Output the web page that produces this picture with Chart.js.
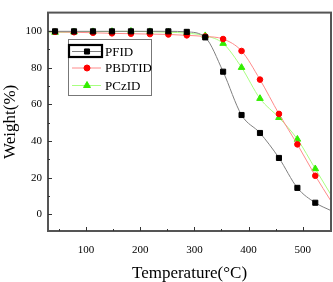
<!DOCTYPE html>
<html>
<head>
<meta charset="utf-8">
<script src="https://cdn.jsdelivr.net/npm/chart.js@4"></script>
<style>
  body { margin: 0; background: #fff; }
  canvas { display: block; }
</style>
</head>
<body>
<canvas id="tga" width="333" height="282"></canvas>
<script>
// temperatures (°C); first and last entries are curve ends without markers
const temps = [30, 43, 78, 113, 148, 183, 218, 252, 286, 320, 353, 387, 421, 456, 490, 523, 552];
const pfid    = [99.9, 99.8, 99.8, 99.8, 99.8, 99.8, 99.8, 99.8, 99.5, 96.5, 77.8, 54.2, 44.4, 30.8, 14.5, 6.4, 2.1];
const pbdtid  = [99.6, 99.5, 99.3, 99.0, 98.7, 98.5, 98.3, 98.1, 97.6, 97.0, 95.6, 89.1, 73.5, 54.8, 38.2, 21.1, 7.3];
const pczid   = [99.0, 99.2, 99.4, 99.6, 99.7, 99.8, 99.6, 99.3, 98.8, 97.4, 93.2, 80.1, 63.2, 52.8, 41.0, 24.9, 10.7];

const xTicks = [100, 200, 300, 400, 500];
const xMinor = [50, 150, 250, 350, 450];
const yTicks = [0, 20, 40, 60, 80, 100];
const yMinor = [10, 30, 50, 70, 90];

const serif = '"Liberation Serif", "Times New Roman", serif';

function series(vals) {
    return vals.map((v, i) => ({ x: temps[i], y: v }));
}
function markerSizes(r) {
    return temps.map((t, i) => (i === 0 || i === temps.length - 1) ? 0 : r);
}

const legendItems = [
    { label: 'PFID', line: '#808080', fill: '#000000', style: 'rect', r: 3.6 },
    { label: 'PBDTID', line: '#ff8a8a', fill: '#ff0000', style: 'circle', r: 3 },
    { label: 'PCzID', line: '#a8ff80', fill: '#33ee00', style: 'triangle', r: 4 }
];

const framePlugin = {
    id: 'frame',
    afterDraw(chart) {
        const ctx = chart.ctx;
        const a = chart.chartArea;
        const xs = chart.scales.x, ys = chart.scales.y;
        ctx.save();
        ctx.strokeStyle = '#555';
        ctx.lineWidth = 2;
        ctx.strokeRect(a.left, a.top, a.right - a.left, a.bottom - a.top);
        // inward ticks
        ctx.lineWidth = 1;
        ctx.strokeStyle = '#333';
        ctx.beginPath();
        xTicks.forEach(v => { const p = Math.round(xs.getPixelForValue(v)) + 0.5; ctx.moveTo(p, a.bottom); ctx.lineTo(p, a.bottom - 4); });
        xMinor.forEach(v => { const p = Math.round(xs.getPixelForValue(v)) + 0.5; ctx.moveTo(p, a.bottom); ctx.lineTo(p, a.bottom - 2); });
        yTicks.forEach(v => { const p = Math.round(ys.getPixelForValue(v)) + 0.5; ctx.moveTo(a.left, p); ctx.lineTo(a.left + 4, p); });
        yMinor.forEach(v => { const p = Math.round(ys.getPixelForValue(v)) + 0.5; ctx.moveTo(a.left, p); ctx.lineTo(a.left + 2, p); });
        ctx.stroke();

        // legend box
        ctx.strokeStyle = '#777';
        ctx.lineWidth = 1;
        ctx.strokeRect(68.5, 39.5, 83, 56);
        ctx.strokeStyle = '#000';
        ctx.lineWidth = 2.2;
        ctx.strokeRect(69, 45, 33, 12);
        const rows = [51.5, 68, 85.5];
        ctx.font = '13px ' + serif;
        ctx.textBaseline = 'middle';
        legendItems.forEach((it, i) => {
            const y = rows[i];
            ctx.strokeStyle = it.line;
            ctx.lineWidth = 1;
            ctx.beginPath();
            ctx.moveTo(72, y);
            ctx.lineTo(101, y);
            ctx.stroke();
            ctx.fillStyle = it.fill;
            ctx.strokeStyle = it.fill;
            Chart.helpers.drawPoint(ctx, { pointStyle: it.style, radius: it.r, borderWidth: 1 }, 87, y);
            ctx.fillStyle = '#000';
            ctx.fillText(it.label, 105, y + 1);
        });
        ctx.restore();
    }
};

new Chart(document.getElementById('tga'), {
    type: 'line',
    data: {
        datasets: [
            {
                label: 'PFID', data: series(pfid),
                borderColor: '#808080', borderWidth: 1,
                pointStyle: 'rect', pointRadius: markerSizes(3.6),
                pointBackgroundColor: '#000', pointBorderColor: '#000',
                cubicInterpolationMode: 'monotone'
            },
            {
                label: 'PBDTID', data: series(pbdtid),
                borderColor: '#ff8a8a', borderWidth: 1,
                pointStyle: 'circle', pointRadius: markerSizes(2.8),
                pointBackgroundColor: '#ff0000', pointBorderColor: '#ff0000',
                cubicInterpolationMode: 'monotone'
            },
            {
                label: 'PCzID', data: series(pczid),
                borderColor: '#a8ff80', borderWidth: 1,
                pointStyle: 'triangle', pointRadius: markerSizes(3.8),
                pointBackgroundColor: '#33ee00', pointBorderColor: '#33ee00',
                cubicInterpolationMode: 'monotone'
            }
        ]
    },
    options: {
        responsive: false,
        animation: false,
        devicePixelRatio: 1,
        layout: { padding: { top: 2, right: 2, left: 0, bottom: 0 } },
        plugins: { legend: { display: false }, tooltip: { enabled: false } },
        scales: {
            x: {
                type: 'linear', min: 30, max: 552,
                afterBuildTicks: s => { s.ticks = xTicks.map(v => ({ value: v })); },
                afterFit: s => { s.height = 51; },
                grid: { display: false, drawTicks: false },
                border: { display: false },
                ticks: { color: '#000', padding: 13, font: { family: serif, size: 11 } },
                title: {
                    display: true, text: 'Temperature(°C)', color: '#000',
                    font: { family: serif, size: 17, lineHeight: 1 }, padding: 0
                }
            },
            y: {
                min: -9, max: 110,
                afterBuildTicks: s => { s.ticks = yTicks.map(v => ({ value: v })); },
                afterFit: s => { s.width = 48; },
                grid: { display: false, drawTicks: false },
                border: { display: false },
                ticks: { color: '#000', padding: 6, font: { family: serif, size: 11 } },
                title: {
                    display: true, text: 'Weight(%)', color: '#000',
                    font: { family: serif, size: 17, lineHeight: 1.2 }, padding: 0
                }
            }
        }
    },
    plugins: [framePlugin]
});
</script>
</body>
</html>
